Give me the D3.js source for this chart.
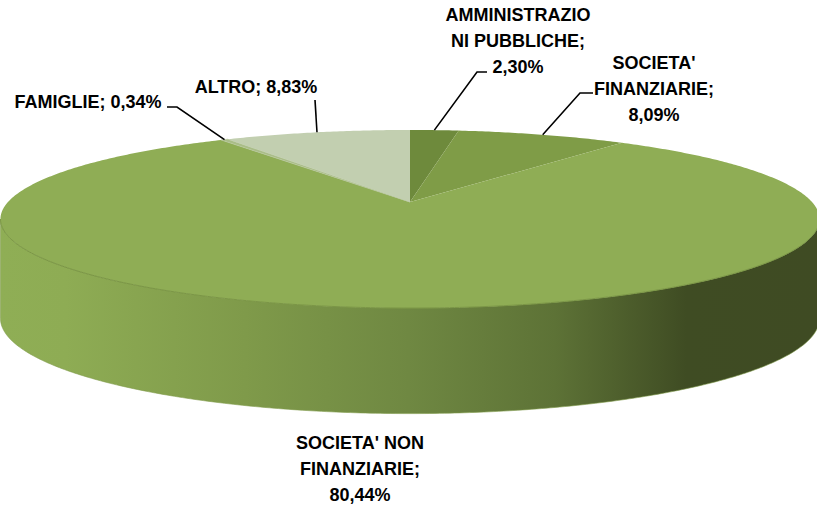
<!DOCTYPE html>
<html lang="it">
<head>
<meta charset="UTF-8">
<title>Composizione per settore</title>
<script src="https://d3js.org/d3.v7.min.js"></script>
<style>
  body { margin: 0; background: #fff; }
  svg { display: block; }
  .label { font-family: "Liberation Sans", Arial, sans-serif; font-weight: bold; font-size: 18px; fill: #000; }
  .leader { fill: none; stroke: #000; stroke-width: 1.6; }
</style>
</head>
<body>
<div id="chart"></div>
<script>
// data (Excel order: clockwise from 12 o'clock)
const categories = ['AMMINISTRAZIONI PUBBLICHE', "SOCIETA' FINANZIARIE", "SOCIETA' NON FINANZIARIE", 'FAMIGLIE', 'ALTRO'];
const values = [2.30, 8.09, 80.44, 0.34, 8.83];
const labelLines = [
  ['AMMINISTRAZIO', 'NI PUBBLICHE;', '2,30%'],
  ["SOCIETA'", 'FINANZIARIE;', '8,09%'],
  ["SOCIETA' NON", 'FINANZIARIE;', '80,44%'],
  ['FAMIGLIE; 0,34%'],
  ['ALTRO; 8,83%']
];
const colors = ['#6e8a3c', '#7f9c47', '#8fad55', '#a9bd88', '#c2cfb0'];

// layout
const W = 817, H = 506;
const cx = 410, cy = 202;   // apex of the pie on screen
const rx = 402;             // horizontal radius at depth 0
const ry = 85.8;            // vertical radius at depth 0
const persp = 0.191;        // perspective strength (back smaller, front bigger)
const depth = 98;           // height of the slab at depth 0
const lineH = 26;

// label box centers (x, first line middle y) and elbow of the leader
const labelPos = [
  { x: 518, y: 15, anchor: 'middle', elbow: [[487, 72], [477, 72]] },
  { x: 654, y: 63, anchor: 'middle', elbow: [[593, 93], [580, 93]] },
  { x: 360, y: 443, anchor: 'middle', elbow: null },
  { x: 88, y: 102, anchor: 'middle', elbow: [[167, 107], [177, 107]] },
  { x: 256, y: 87, anchor: 'middle', elbow: [[315, 100]] }
];

// angle in radians, 0 = back (up on screen), clockwise
function project(t, drop) {
  const s = 1 / (1 + persp * Math.cos(t));
  return [cx + rx * Math.sin(t) * s, cy - ry * Math.cos(t) * s + (drop ? depth * Math.pow(s, 0.35) : 0)];
}

const pie = d3.pie().sort(null).value(d => d)(values);

const svg = d3.select('#chart').append('svg')
  .attr('width', W)
  .attr('height', H);

const defs = svg.append('defs');
const grad = defs.append('linearGradient')
  .attr('id', 'side')
  .attr('gradientUnits', 'userSpaceOnUse')
  .attr('x1', 0).attr('x2', W).attr('y1', 0).attr('y2', 0);
[[0, '#8fae55'], [0.08, '#8eac54'], [0.3, '#7f9a4a'], [0.5, '#6f8842'], [0.68, '#5d7236'], [0.84, '#3f4c23'], [1, '#3f4b23']]
  .forEach(([o, c]) => grad.append('stop').attr('offset', o).attr('stop-color', c));

const line = d3.line();

function arcPoints(a0, a1, drop) {
  const n = Math.max(2, Math.ceil(Math.abs(a1 - a0) / 0.01));
  return d3.range(n + 1).map(i => project(a0 + (a1 - a0) * i / n, drop));
}

// side wall (only the front is visible; silhouette where cos = -persp)
const tEdge = Math.acos(-persp);
const sidePts = arcPoints(tEdge, 2 * Math.PI - tEdge, false)
  .concat(arcPoints(2 * Math.PI - tEdge, tEdge, true));
svg.append('path')
  .attr('d', line(sidePts) + 'Z')
  .attr('fill', 'url(#side)')
  .attr('stroke', '#7f9a4a')
  .attr('stroke-width', 0.6);

// top face slices
svg.append('g')
  .selectAll('path')
  .data(pie)
  .join('path')
  .attr('d', d => line([[cx, cy]].concat(arcPoints(d.startAngle, d.endAngle, false))) + 'Z')
  .attr('fill', (d, i) => colors[i])
  .attr('stroke', (d, i) => i === 3 ? '#b7c79c' : 'none')
  .attr('stroke-width', 0.8);

// rim line on the front of the top face
svg.append('path')
  .attr('d', line(arcPoints(tEdge, 2 * Math.PI - tEdge, false)))
  .attr('fill', 'none')
  .attr('stroke', '#7b9646')
  .attr('stroke-width', 1);

// leader lines
pie.forEach((d, i) => {
  const p = labelPos[i];
  if (!p.elbow) return;
  const anchor = project((d.startAngle + d.endAngle) / 2, false);
  svg.append('path')
    .attr('class', 'leader')
    .attr('d', line(p.elbow.concat([anchor])));
});

// labels
labelLines.forEach((lines, i) => {
  const p = labelPos[i];
  const t = svg.append('text')
    .attr('class', 'label')
    .attr('text-anchor', p.anchor);
  lines.forEach((s, k) => {
    t.append('tspan')
      .attr('x', p.x)
      .attr('y', p.y + k * lineH)
      .attr('dy', '0.36em')
      .text(s);
  });
});
</script>
</body>
</html>
